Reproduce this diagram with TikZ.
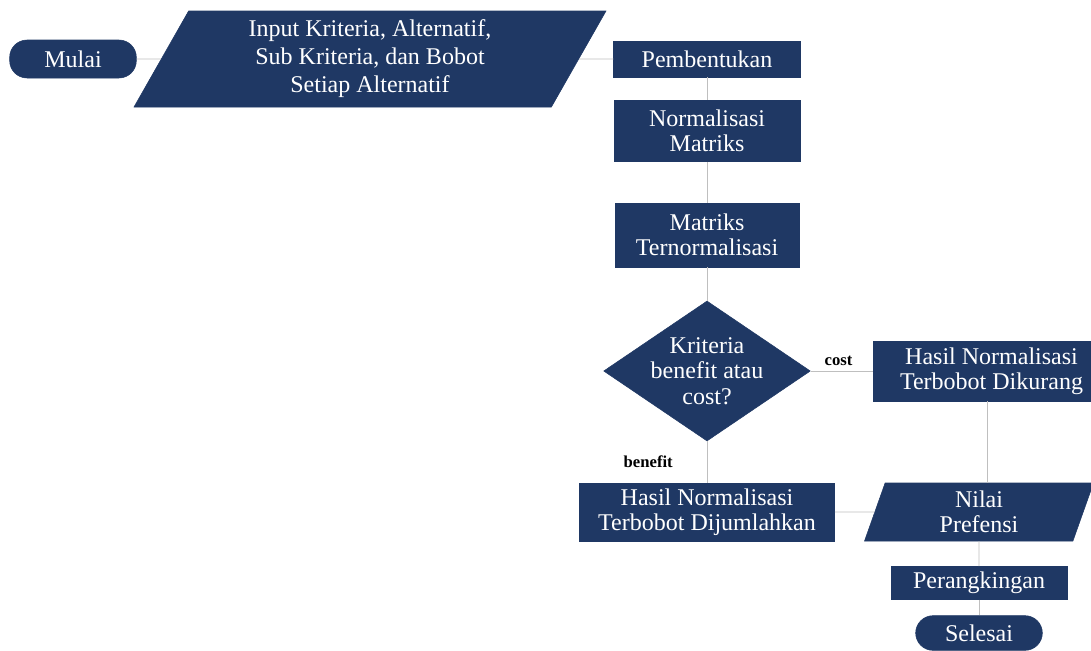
\documentclass[tikz,border=0pt]{standalone}
\usepackage{fontspec}
\setmainfont{Liberation Serif}
\usetikzlibrary{shapes.geometric,positioning}
\definecolor{navy}{HTML}{1F3864}
\definecolor{linegray}{HTML}{BFBFBF}

\begin{document}
\begin{tikzpicture}[
    every node/.style={font=\fontsize{18}{19}\selectfont},
    box/.style={draw=navy, fill=navy, text=white, rectangle, align=center, inner sep=1pt},
    term/.style={box, rounded corners=13pt},
    io/.style={draw=navy, fill=navy, text=white, trapezium, trapezium stretches body, align=center, inner sep=0pt},
    dec/.style={draw=navy, fill=navy, diamond, inner sep=0pt},
    lbl/.style={text=white, align=center},
    lab/.style={font=\fontsize{12.5}{13}\selectfont\bfseries, text=black},
    line/.style={draw=linegray, line width=0.7pt}]
    \useasboundingbox (0,0) rectangle (818.25pt,-487.5pt);

    \node (mulai) [term, minimum width=95pt, minimum height=28.5pt] at (54.75pt,-44.25pt) {Mulai};
    \node (input) [io, font=\fontsize{18}{21}\selectfont, minimum width=354pt, minimum height=72pt, trapezium left angle=55, trapezium right angle=125, right of=mulai, node distance=222.75pt] {Input Kriteria, Alternatif,\\Sub Kriteria, dan Bobot\\Setiap Alternatif};
    \node (pemb) [box, minimum width=140pt, minimum height=27pt, right of=input, node distance=252.75pt] {Pembentukan};
    \node (norm) [box, minimum width=139.5pt, minimum height=45.75pt, below of=pemb, node distance=54pt] {Normalisasi\\Matriks};
    \node (tern) [box, minimum width=138pt, minimum height=48pt, below of=norm, node distance=78pt] {Matriks\\Ternormalisasi};
    \node (cek) [dec, minimum width=155pt, minimum height=105pt, below of=tern, node distance=102pt, label={[lbl]center:Kriteria\\benefit atau\\cost?}] {};
    \node (kurang) [box, minimum width=177.75pt, minimum height=45pt, right of=cek, node distance=213.4pt] {Hasil Normalisasi\\Terbobot Dikurang};
    \node (jumlah) [box, minimum width=191.25pt, minimum height=43.5pt, below of=cek, node distance=105.75pt] {Hasil Normalisasi\\Terbobot Dijumlahkan};
    \node (nilai) [io, minimum width=171.75pt, minimum height=43.5pt, trapezium left angle=64, trapezium right angle=116, right of=jumlah, node distance=204pt] {Nilai\\Prefensi};
    \node (rank) [box, minimum width=132pt, minimum height=24.75pt, below of=nilai, node distance=53.25pt] {Perangkingan};
    \node (selesai) [term, minimum width=95pt, minimum height=26pt, below of=rank, node distance=37.5pt] {Selesai};

    \draw[line] (mulai) -- (input);
    \draw[line] (input) -- (pemb);
    \draw[line] (pemb) -- (norm);
    \draw[line] (norm) -- (tern);
    \draw[line] (tern) -- (cek);
    \draw[line] (cek.east) -- node[lab, above, pos=0.45] {cost} (kurang.west);
    \draw[line] (cek.south) -- node[lab, left=22pt] {benefit} (jumlah.north);
    \draw[line] ([xshift=-3.4pt]kurang.south) -- ([xshift=-3.4pt]kurang.south |- nilai.north);
    \draw[line] (jumlah.east) -- (nilai.west);
    \draw[line] (nilai) -- (rank);
    \draw[line] (rank) -- (selesai);
\end{tikzpicture}
\end{document}
